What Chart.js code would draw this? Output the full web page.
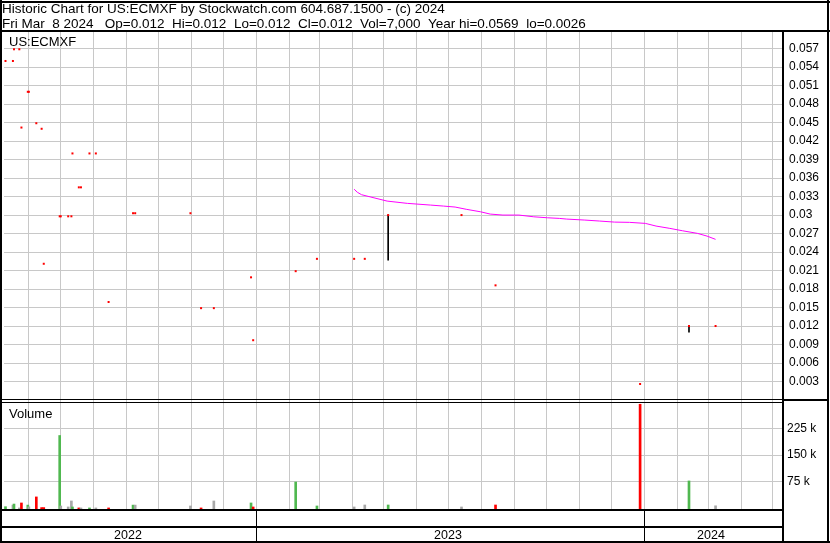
<!DOCTYPE html>
<html><head><meta charset="utf-8">
<script src="https://cdn.jsdelivr.net/npm/chart.js@4.4.1/dist/chart.umd.min.js"></script>
<style>html,body{margin:0;padding:0;background:#fff;}canvas{display:block;}</style>
</head><body>
<canvas id="c" width="830" height="543"></canvas>
<script>
// ---------------- data ----------------
const tradeDates = ['2022-05-10','2022-05-17','2022-05-18','2022-05-23','2022-05-25','2022-05-31','2022-06-01','2022-06-08','2022-06-13','2022-06-15','2022-06-30','2022-07-01','2022-07-08','2022-07-11','2022-07-12','2022-07-18','2022-07-20','2022-07-28','2022-08-03','2022-08-15','2022-09-07','2022-09-09','2022-10-31','2022-11-10','2022-11-22','2022-12-27','2022-12-29','2023-02-07','2023-02-27','2023-04-03','2023-04-13','2023-05-05','2023-07-13','2023-08-14','2023-12-28','2024-02-12','2024-03-08'];
const closes = [0.055,0.055,0.0569,0.0569,0.0442,0.050,0.050,0.0449,0.044,0.0221,0.0298,0.0298,0.0298,0.0298,0.040,0.0345,0.0345,0.040,0.040,0.0159,0.0303,0.0303,0.0303,0.0149,0.0149,0.0199,0.0097,0.0209,0.0229,0.0229,0.0229,0.030,0.030,0.0186,0.0026,0.012,0.012];
const volumes = [4500,9000,12000,1000,15000,9000,4000,32000,2000,2000,205000,6500,3700,20600,3700,1000,1000,1000,1000,1000,9000,9000,6500,1000,20600,15000,3700,74000,6500,3700,9300,9300,3700,9300,293000,77000,7000];
const moves = ['up','flat','up','flat','down','up','flat','down','down','down','up','flat','flat','flat','up','down','flat','up','flat','down','up','flat','flat','down','flat','up','down','up','up','flat','flat','up','flat','down','down','up','flat'];
const rangeDates = ['2023-05-05','2024-02-12'];
const rangeHighs = [0.030,0.012];
const rangeLows = [0.0227,0.0110];
const maDates = ['2023-04-03','2023-04-06','2023-04-10','2023-04-17','2023-05-04','2023-05-23','2023-06-14','2023-06-26','2023-07-07','2023-07-18','2023-07-31','2023-08-09','2023-08-21','2023-09-05','2023-09-19','2023-10-02','2023-10-13','2023-10-20','2023-11-06','2023-11-20','2023-12-04','2023-12-18','2024-01-02','2024-01-12','2024-01-25','2024-02-06','2024-02-20','2024-02-29','2024-03-08'];
const maValues = [0.0342,0.0337,0.0333,0.0330,0.03227,0.0319,0.03162,0.03146,0.0313,0.03092,0.03053,0.03016,0.0300,0.0300,0.02972,0.02956,0.02946,0.02935,0.02919,0.02903,0.02886,0.02882,0.02865,0.02822,0.02784,0.02745,0.02703,0.02659,0.02606];
const priceTicks = [0.003,0.006,0.009,0.012,0.015,0.018,0.021,0.024,0.027,0.030,0.033,0.036,0.039,0.042,0.045,0.048,0.051,0.054,0.057];
const volumeTicks = [75000,150000,225000];
const volumeTickLabels = ['75 k','150 k','225 k'];
const yearLabels = ['2022','2023','2024'];
const headerLine1 = 'Historic Chart for US:ECMXF by Stockwatch.com 604.687.1500 - (c) 2024';
const headerLine2 = 'Fri Mar  8 2024   Op=0.012  Hi=0.012  Lo=0.012  Cl=0.012  Vol=7,000  Year hi=0.0569  lo=0.0026';
const symbolLabel = 'US:ECMXF';
const volumeLabel = 'Volume';

// ---------------- helpers ----------------
const BASE = Date.UTC(2023,0,1);
function dayNum(s){const p=s.split('-').map(Number);return (Date.UTC(p[0],p[1]-1,p[2])-BASE)/86400000;}
const FONT = '"Liberation Sans", Arial, sans-serif';
const moveColors = {up:'#50B850', down:'#FF0000', flat:'#A8A8A8'};
const X_MIN = dayNum('2022-05-08') + 0.6;
const X_MAX = dayNum('2024-05-09') + 0.5;
const VOL_MIN = -2000, VOL_MAX = 305000;
const monthTicks = [];
for (let y=2022;y<=2024;y++) for (let m=1;m<=12;m++){
  const v = dayNum(y+'-'+String(m).padStart(2,'0')+'-01');
  if (v > X_MIN && v < X_MAX) monthTicks.push(v);
}

const framePlugin = {
  id:'frame',
  afterDraw(chart){
    const ctx = chart.ctx, xs = chart.scales.x, ys = chart.scales.y, ca = chart.chartArea;
    const W = chart.width, H = chart.height;
    const sep = Math.round(ys.bottom);
    ctx.save();
    ctx.fillStyle = '#000';
    ctx.fillRect(0,1,W,2);
    ctx.fillRect(0,0,2,H);
    ctx.fillRect(W-3,0,2,H);
    ctx.fillRect(0,H-2,W,2);
    ctx.fillRect(0,30,W,2);
    ctx.fillRect(ca.right,30,2,H-30);
    ctx.fillRect(0,sep-1,ca.right,1);
    ctx.fillRect(0,sep+2,ca.right,1);
    ctx.fillRect(ca.right,sep-1,W-ca.right-3,2);
    ctx.fillRect(0,ca.bottom,ca.right+2,2);
    ctx.fillRect(0,ca.bottom+17,ca.right+2,2);
    // year separators and labels
    const bounds = [ca.left];
    for (let i=1;i<yearLabels.length;i++){
      const px = Math.round(xs.getPixelForValue(dayNum(yearLabels[i]+'-01-01')));
      ctx.fillRect(px,ca.bottom,1,H-2-ca.bottom);
      bounds.push(px);
    }
    bounds.push(ca.right);
    ctx.font = '12.5px '+FONT;
    ctx.textAlign = 'center';
    ctx.textBaseline = 'alphabetic';
    for (let i=0;i<yearLabels.length;i++){
      ctx.fillText(yearLabels[i], (bounds[i]+bounds[i+1])/2 - 2, H-4);
    }
    // header & panel labels
    ctx.textAlign = 'left';
    ctx.font = '13.5px '+FONT;
    ctx.fillText(headerLine1, 2, 13);
    ctx.fillText(headerLine2, 2, 28);
    ctx.font = '13px '+FONT;
    ctx.fillText(symbolLabel, 9, 46);
    ctx.fillText(volumeLabel, 9, sep+18);
    ctx.restore();
  }
};

new Chart(document.getElementById('c'), {
  type:'bar',
  data:{datasets:[
    {type:'scatter', label:'Close', data:tradeDates.map((d,i)=>({x:dayNum(d), y:closes[i]})), yAxisID:'y',
     pointStyle:'rect', pointRadius:1.42, pointBorderWidth:0, pointBackgroundColor:'#FF0000', showLine:false, order:0},
    {type:'bar', label:'Range', data:rangeDates.map((d,i)=>({x:dayNum(d), y:[rangeLows[i], rangeHighs[i]]})), yAxisID:'y',
     backgroundColor:'#000', borderWidth:0, barThickness:1, grouped:false, order:1},
    {type:'line', label:'MA', data:maDates.map((d,i)=>({x:dayNum(d), y:maValues[i]})), yAxisID:'y',
     borderColor:'#FF00FF', borderWidth:1, pointRadius:0, tension:0, fill:false, order:2},
    {type:'bar', label:'Volume', data:tradeDates.map((d,i)=>({x:dayNum(d), y:volumes[i]})), yAxisID:'yv',
     backgroundColor:moves.map(m=>moveColors[m]), borderWidth:0, barThickness:2, grouped:false, base:VOL_MIN, order:3}
  ]},
  options:{
    responsive:false, animation:false, devicePixelRatio:1,
    layout:{padding:{top:32,left:2,right:0,bottom:34}},
    plugins:{legend:{display:false}, tooltip:{enabled:false}},
    scales:{
      x:{type:'linear', min:X_MIN, max:X_MAX, offset:false,
         afterBuildTicks:s=>{s.ticks = monthTicks.map(v=>({value:v}));},
         ticks:{display:false}, grid:{color:'#C8C8C8', lineWidth:1, drawTicks:false, offset:false}, border:{display:false}},
      y:{type:'linear', position:'right', stack:'panels', stackWeight:368, min:0, max:0.0597,
         afterBuildTicks:s=>{s.ticks = priceTicks.map(v=>({value:v}));},
         afterFit:s=>{s.width = 48;},
         ticks:{autoSkip:false, padding:7, color:'#000', font:{family:FONT, size:12},
                callback:v=>String(Number(v.toFixed(3)))},
         grid:{color:'#C8C8C8', lineWidth:1, drawTicks:false}, border:{display:false}},
      yv:{type:'linear', position:'right', stack:'panels', stackWeight:109, min:VOL_MIN, max:VOL_MAX,
         afterBuildTicks:s=>{s.ticks = volumeTicks.map(v=>({value:v}));},
         afterFit:s=>{s.width = 48;},
         ticks:{autoSkip:false, padding:5, color:'#000', font:{family:FONT, size:12},
                callback:v=>volumeTickLabels[volumeTicks.indexOf(v)]},
         grid:{color:'#C8C8C8', lineWidth:1, drawTicks:false}, border:{display:false}}
    }
  },
  plugins:[framePlugin]
});
</script>
</body></html>
